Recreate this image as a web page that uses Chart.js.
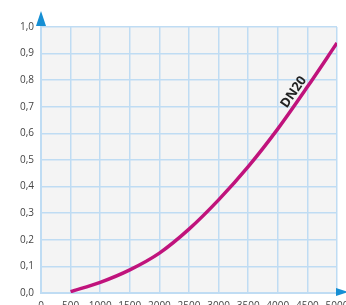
<!DOCTYPE html>
<html lang="fr">
<head>
  <meta charset="UTF-8" />
  <title>DN20</title>
  <script src="https://cdn.jsdelivr.net/npm/chart.js"></script>
  <style>
    html, body { margin: 0; padding: 0; background: #fff; }
    #wrap { width: 346px; height: 305px; }
  </style>
</head>
<body>
  <div id="wrap"><canvas id="graph"></canvas></div>

  <script>
    const debits = [500, 1000, 1500, 2000, 2500, 3000, 3500, 4000, 4500, 5000];
    const pertes = [0.005, 0.04, 0.087, 0.15, 0.24, 0.35, 0.475, 0.617, 0.775, 0.94];
    const nomCourbe = 'DN20';

    const bleuGrille = '#bfdcf3';
    const bleuFleche = '#168fd4';
    const magenta = '#c0137c';

    const fond = {
      id: 'fond',
      beforeDraw(chart) {
        const { ctx, chartArea: a } = chart;
        ctx.save();
        ctx.fillStyle = '#f4f4f4';
        ctx.fillRect(a.left, a.top, a.right - a.left, a.bottom - a.top);
        ctx.restore();
      }
    };

    // flèches des axes + étiquette de la courbe
    const decor = {
      id: 'decor',
      afterDraw(chart) {
        const { ctx, chartArea: a, scales } = chart;
        ctx.save();
        ctx.fillStyle = bleuFleche;
        ctx.beginPath();
        ctx.moveTo(a.left - 5, a.top - 1);
        ctx.lineTo(a.left + 5, a.top - 1);
        ctx.lineTo(a.left, a.top - 16);
        ctx.closePath();
        ctx.fill();
        ctx.beginPath();
        ctx.moveTo(a.right - 1, a.bottom - 5);
        ctx.lineTo(a.right - 1, a.bottom + 3);
        ctx.lineTo(a.right + 11, a.bottom - 1);
        ctx.closePath();
        ctx.fill();

        const px = scales.x.getPixelForValue(4270);
        const py = scales.y.getPixelForValue(0.755);
        ctx.translate(px, py);
        ctx.rotate(-55 * Math.PI / 180);
        ctx.fillStyle = '#222';
        ctx.font = 'bold 13px "Open Sans", sans-serif';
        ctx.textAlign = 'center';
        ctx.textBaseline = 'middle';
        ctx.fillText(nomCourbe, 0, 0);
        ctx.restore();
      }
    };

    new Chart(document.getElementById('graph'), {
      type: 'line',
      data: {
        datasets: [{
          label: nomCourbe,
          data: debits.map((d, i) => ({ x: d, y: pertes[i] })),
          borderColor: magenta,
          borderWidth: 3.5,
          pointRadius: 0,
          cubicInterpolationMode: 'monotone',
          fill: false
        }]
      },
      options: {
        responsive: true,
        maintainAspectRatio: false,
        animation: false,
        layout: { padding: { top: 27, right: 9, left: 0, bottom: 0 } },
        plugins: { legend: { display: false }, tooltip: { enabled: false } },
        scales: {
          x: {
            type: 'linear',
            min: 0,
            max: 5000,
            afterFit(s) { s.height = 12; s.paddingLeft = 0; s.paddingRight = 0; },
            border: { color: bleuGrille, width: 2 },
            grid: { color: bleuGrille, lineWidth: 1.5, drawTicks: false },
            ticks: {
              stepSize: 500,
              autoSkip: false,
              maxRotation: 0,
              padding: 7,
              color: '#444',
              font: { family: '"Open Sans", sans-serif', size: 10 },
              callback: v => String(v)
            }
          },
          y: {
            min: 0,
            max: 1,
            afterFit(s) { s.width = 41; s.paddingTop = 0; s.paddingBottom = 0; },
            border: { color: bleuGrille, width: 2 },
            grid: { color: bleuGrille, lineWidth: 1.5, drawTicks: false },
            ticks: {
              stepSize: 0.1,
              padding: 7,
              color: '#444',
              font: { family: '"Open Sans", sans-serif', size: 10 },
              callback: v => v.toFixed(1).replace('.', ',')
            }
          }
        }
      },
      plugins: [fond, decor]
    });
  </script>
</body>
</html>
